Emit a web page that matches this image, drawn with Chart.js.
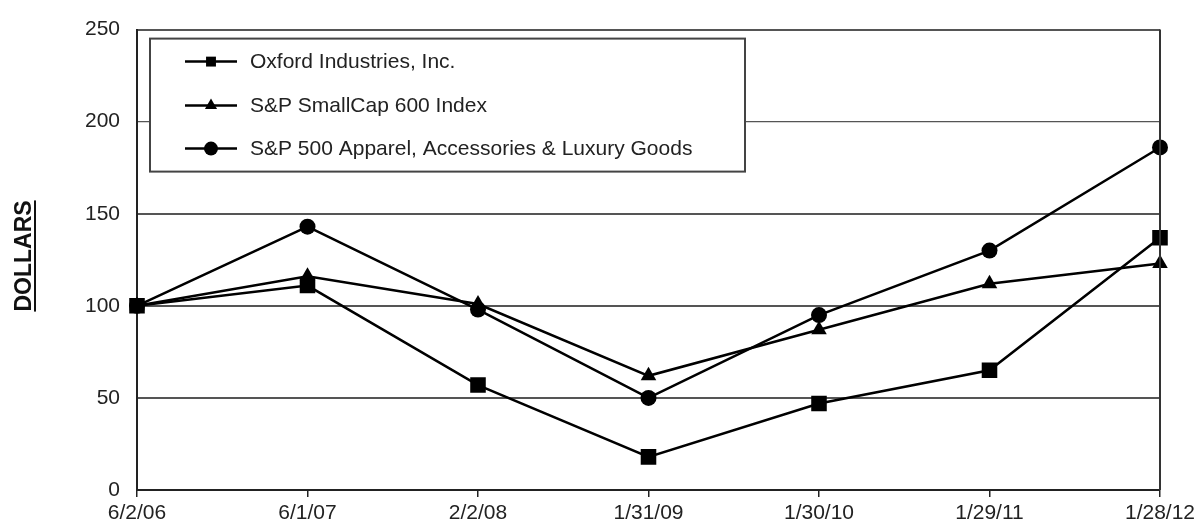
<!DOCTYPE html>
<html>
<head>
<meta charset="utf-8">
<script src="https://cdn.jsdelivr.net/npm/chart.js@4.4.1/dist/chart.umd.min.js"></script>
<style>
    html, body { margin: 0; padding: 0; background: #fff; }
    #wrap { width: 1201px; height: 529px; position: relative; }
</style>
</head>
<body>
<div id="wrap"><canvas id="mainChart"></canvas></div>
<script>
// Данные графика
const categories = ['6/2/06', '6/1/07', '2/2/08', '1/31/09', '1/30/10', '1/29/11', '1/28/12'];
const oxfordValues = [100, 111, 57, 18, 47, 65, 137];
const smallCapValues = [100, 116, 101, 62, 87, 112, 123];
const apparelValues = [100, 143, 98, 50, 95, 130, 186];
const yTicks = [0, 50, 100, 150, 200, 250];
const seriesNames = [
    'Oxford Industries, Inc.',
    'S&P SmallCap 600 Index',
    'S&P 500 Apparel, Accessories & Luxury Goods'
];

const FONT = '"Liberation Sans", Arial, Helvetica, sans-serif';

// Легенда в рамке внутри области графика
const boxLegend = {
    id: 'boxLegend',
    beforeDatasetsDraw(chart) {
        const ctx = chart.ctx;
        const area = chart.chartArea;
        const x = area.left + 13;
        const y = area.top + 9;
        const w = 595;
        const h = 133;
        ctx.save();
        ctx.fillStyle = '#fff';
        ctx.fillRect(x, y, w, h);
        ctx.strokeStyle = '#444';
        ctx.lineWidth = 2;
        ctx.strokeRect(x, y, w, h);

        const rows = [23, 67, 110];
        chart.data.datasets.forEach((ds, i) => {
            const cy = y + rows[i];
            ctx.strokeStyle = '#000';
            ctx.lineWidth = 2.5;
            ctx.beginPath();
            ctx.moveTo(x + 35, cy);
            ctx.lineTo(x + 87, cy);
            ctx.stroke();
            ctx.fillStyle = '#000';
            Chart.helpers.drawPoint(ctx, {
                pointStyle: ds.pointStyle,
                radius: ds.pointStyle === 'rect' ? 7 : 7,
                borderWidth: 0
            }, x + 61, cy);
            ctx.fillStyle = '#222';
            ctx.font = '21px ' + FONT;
            ctx.textBaseline = 'middle';
            ctx.textAlign = 'left';
            ctx.fillText(ds.label, x + 100, cy + 1);
        });
        ctx.restore();
    },
    afterDraw(chart) {
        const ctx = chart.ctx;
        const area = chart.chartArea;
        ctx.save();
        // правая граница рамки
        ctx.strokeStyle = '#333';
        ctx.lineWidth = 2;
        ctx.beginPath();
        ctx.moveTo(area.right, area.top);
        ctx.lineTo(area.right, area.bottom);
        ctx.stroke();

        // подпись оси Y с подчеркиванием
        ctx.translate(31, 256);
        ctx.rotate(-Math.PI / 2);
        ctx.font = 'bold 23px ' + FONT;
        ctx.fillStyle = '#111';
        ctx.textAlign = 'center';
        ctx.textBaseline = 'alphabetic';
        const text = 'DOLLARS';
        const tw = ctx.measureText(text).width;
        ctx.fillText(text, 0, 0);
        ctx.fillRect(-tw / 2, 3, tw, 2);
        ctx.restore();
    }
};

function renderChart() {
    const ctx = document.getElementById('mainChart');

    const common = {
        borderColor: '#000',
        backgroundColor: '#000',
        pointBackgroundColor: '#000',
        pointBorderColor: '#000',
        borderWidth: 2.5,
        pointBorderWidth: 0,
        tension: 0,
        fill: false
    };

    const data = {
        labels: categories,
        datasets: [
            Object.assign({}, common, { label: seriesNames[0], data: oxfordValues, pointStyle: 'rect', pointRadius: 11, pointHoverRadius: 11 }),
            Object.assign({}, common, { label: seriesNames[1], data: smallCapValues, pointStyle: 'triangle', pointRadius: 9, pointHoverRadius: 9 }),
            Object.assign({}, common, { label: seriesNames[2], data: apparelValues, pointStyle: 'circle', pointRadius: 8, pointHoverRadius: 8 })
        ]
    };

    const options = {
        responsive: true,
        maintainAspectRatio: false,
        animation: false,
        layout: { padding: { top: 25, right: 41, bottom: 0, left: 0 } },
        plugins: {
            legend: { display: false },
            tooltip: { enabled: false }
        },
        scales: {
            x: {
                type: 'category',
                offset: false,
                grid: {
                    drawOnChartArea: false,
                    drawTicks: true,
                    tickLength: 7,
                    color: '#222',
                    lineWidth: 1.5
                },
                border: { display: true, color: '#222', width: 2 },
                ticks: {
                    color: '#222',
                    font: { family: FONT, size: 21 },
                    padding: 4,
                    maxRotation: 0,
                    autoSkip: false
                },
                afterFit(scale) { scale.height = 39; }
            },
            y: {
                min: 0,
                max: 250,
                afterBuildTicks(scale) {
                    scale.ticks = yTicks.map(v => ({ value: v }));
                },
                grid: {
                    drawTicks: false,
                    color: '#555',
                    lineWidth: (c) => (c.tick && c.tick.value === 200 ? 1.3 : 2)
                },
                border: { display: true, color: '#222', width: 2 },
                ticks: {
                    color: '#222',
                    font: { family: FONT, size: 21 },
                    padding: 17
                },
                afterFit(scale) { scale.width = 137; }
            }
        }
    };

    new Chart(ctx, {
        type: 'line',
        data: data,
        options: options,
        plugins: [boxLegend]
    });
}

document.addEventListener('DOMContentLoaded', renderChart);
</script>
</body>
</html>
